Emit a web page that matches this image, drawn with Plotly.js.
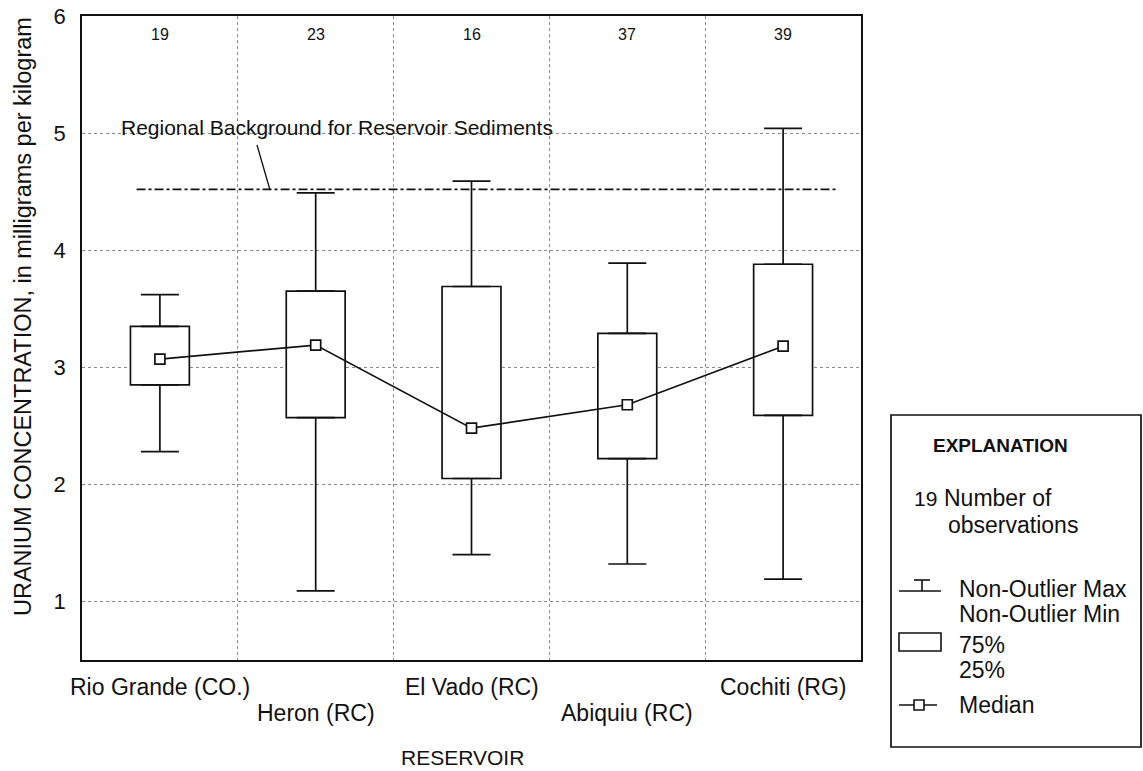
<!DOCTYPE html>
<html><head><meta charset="utf-8">
<script src="https://cdn.plot.ly/plotly-3.0.1.min.js"></script>
<style>html,body{margin:0;padding:0;background:#fff;} #chart{width:1143px;height:771px;}</style>
</head><body><div id="chart"></div>
<script>
// ---- data ----
const reservoirs = ["Rio Grande (CO.)", "Heron (RC)", "El Vado (RC)", "Abiquiu (RC)", "Cochiti (RG)"];
const observations = [19, 23, 16, 37, 39];
const nonOutlierMax = [3.62, 4.49, 4.59, 3.89, 5.04];
const q75 = [3.35, 3.65, 3.69, 3.29, 3.88];
const medians = [3.07, 3.19, 2.48, 2.68, 3.18];
const q25 = [2.85, 2.57, 2.05, 2.22, 2.59];
const nonOutlierMin = [2.28, 1.09, 1.40, 1.32, 1.19];
const regionalBackground = 4.52;
const yTicks = [1, 2, 3, 4, 5, 6];

// ---- geometry / style ----
const W = 1143, H = 771;
const M = {l: 82, r: 282, t: 16, b: 111};
const PW = W - M.l - M.r, PH = H - M.t - M.b;
const px = x => (x - M.l) / PW;       // pixel -> paper x
const py = y => (H - M.b - y) / PH;   // pixel -> paper y
const FONT = "Liberation Sans, Arial, Helvetica, sans-serif";
const BLACK = "#111";
const idx = reservoirs.map((_, i) => i);

const traces = [
  { type: "bar", x: idx, base: q25, y: q75.map((v, i) => v - q25[i]), width: 0.378,
    marker: {color: "white", line: {color: BLACK, width: 1.7}}, hoverinfo: "skip", showlegend: false },
  { type: "scatter", mode: "markers", x: idx, y: q75, marker: {size: 1, color: "rgba(0,0,0,0)"},
    error_y: {type: "data", symmetric: false, array: nonOutlierMax.map((v, i) => v - q75[i]),
              arrayminus: q75.map(() => 0), width: 19, thickness: 1.7, color: BLACK},
    hoverinfo: "skip", showlegend: false },
  { type: "scatter", mode: "markers", x: idx, y: q25, marker: {size: 1, color: "rgba(0,0,0,0)"},
    error_y: {type: "data", symmetric: false, array: q25.map(() => 0),
              arrayminus: q25.map((v, i) => v - nonOutlierMin[i]), width: 19, thickness: 1.7, color: BLACK},
    hoverinfo: "skip", showlegend: false },
  { type: "scatter", mode: "lines+markers", x: idx, y: medians,
    line: {color: BLACK, width: 1.7},
    marker: {symbol: "square", size: 10, color: "white", line: {color: BLACK, width: 1.7}},
    showlegend: false }
];

const annotations = [];
// category labels (alternating rows) and observation counts
reservoirs.forEach((name, i) => {
  annotations.push({ xref: "x", yref: "paper", x: i, y: py(i % 2 === 0 ? 687 : 713),
    text: name, showarrow: false, xanchor: "center", yanchor: "middle",
    font: {family: FONT, size: 23, color: BLACK} });
  annotations.push({ xref: "x", yref: "paper", x: i, y: py(35),
    text: String(observations[i]), showarrow: false, xanchor: "center", yanchor: "middle",
    font: {family: FONT, size: 16, color: BLACK} });
});
annotations.push({ xref: "paper", yref: "paper", x: px(462), y: py(757), text: "RESERVOIR",
  showarrow: false, xanchor: "center", yanchor: "middle", font: {family: FONT, size: 21, color: BLACK} });
annotations.push({ xref: "paper", yref: "paper", x: px(23), y: py(317), textangle: -90,
  text: "URANIUM CONCENTRATION, in milligrams per kilogram",
  showarrow: false, xanchor: "center", yanchor: "middle", font: {family: FONT, size: 23.5, color: BLACK} });
annotations.push({ xref: "paper", yref: "paper", x: px(119), y: py(127),
  text: "Regional Background for Reservoir Sediments",
  showarrow: false, xanchor: "left", yanchor: "middle", font: {family: FONT, size: 21, color: BLACK} });

// legend texts
const legText = (x, y, t, opts = {}) => annotations.push(Object.assign({
  xref: "paper", yref: "paper", x: px(x), y: py(y), text: t, showarrow: false,
  xanchor: "left", yanchor: "middle", font: {family: FONT, size: 23, color: BLACK}}, opts));
legText(1001, 445, "<b>EXPLANATION</b>", {xanchor: "center", font: {family: FONT, size: 19, color: BLACK}});
legText(912, 498, "19", {font: {family: FONT, size: 21, color: BLACK}});
legText(942, 498, "Number of");
legText(946, 525, "observations");
legText(957, 589, "Non-Outlier Max");
legText(957, 614, "Non-Outlier Min");
legText(957, 645, "75%");
legText(957, 670, "25%");
legText(957, 705, "Median");

const pline = (x0, y0, x1, y1, w = 1.6) => ({ type: "line", xref: "paper", yref: "paper",
  x0: px(x0), y0: py(y0), x1: px(x1), y1: py(y1), line: {color: BLACK, width: w} });

const shapes = [
  { type: "line", xref: "x", yref: "y", x0: -0.15, x1: 4.35, y0: regionalBackground, y1: regionalBackground,
    line: {color: BLACK, width: 1.7, dash: "dashdot"} },
  pline(257, 145, 270, 190, 1.3),
  // legend frame
  { type: "rect", xref: "paper", yref: "paper", x0: px(891), x1: px(1141), y0: py(747), y1: py(415),
    line: {color: BLACK, width: 1.7}, fillcolor: "rgba(0,0,0,0)" },
  // whisker symbol
  pline(899, 591, 941, 591), pline(922, 580, 922, 591), pline(914, 580, 930, 580),
  // box symbol
  { type: "rect", xref: "paper", yref: "paper", x0: px(899), x1: px(941), y0: py(651), y1: py(633),
    line: {color: BLACK, width: 1.6}, fillcolor: "white" },
  // median symbol
  pline(899, 705, 937, 705),
  { type: "rect", xref: "paper", yref: "paper", x0: px(914), x1: px(924), y0: py(710), y1: py(700),
    line: {color: BLACK, width: 1.6}, fillcolor: "white" }
];

const layout = {
  width: W, height: H, margin: M, paper_bgcolor: "white", plot_bgcolor: "white",
  font: {family: FONT, color: BLACK}, showlegend: false, bargap: 0,
  xaxis: { range: [-0.5, 4.5], tickvals: [0.5, 1.5, 2.5, 3.5], showticklabels: false, ticks: "",
    showgrid: true, griddash: "dot", gridcolor: "#8a8a8a", gridwidth: 1,
    showline: true, mirror: true, linecolor: BLACK, linewidth: 1.8, zeroline: false, fixedrange: true },
  yaxis: { range: [0.5, 6], tickvals: yTicks, ticktext: yTicks.map(String), ticks: "",
    tickfont: {family: FONT, size: 22, color: BLACK}, ticklabelstandoff: 10,
    showgrid: true, griddash: "dot", gridcolor: "#8a8a8a", gridwidth: 1,
    showline: true, mirror: true, linecolor: BLACK, linewidth: 1.8, zeroline: false, fixedrange: true },
  annotations, shapes
};

Plotly.newPlot("chart", traces, layout, {staticPlot: true, displayModeBar: false});
</script></body></html>
